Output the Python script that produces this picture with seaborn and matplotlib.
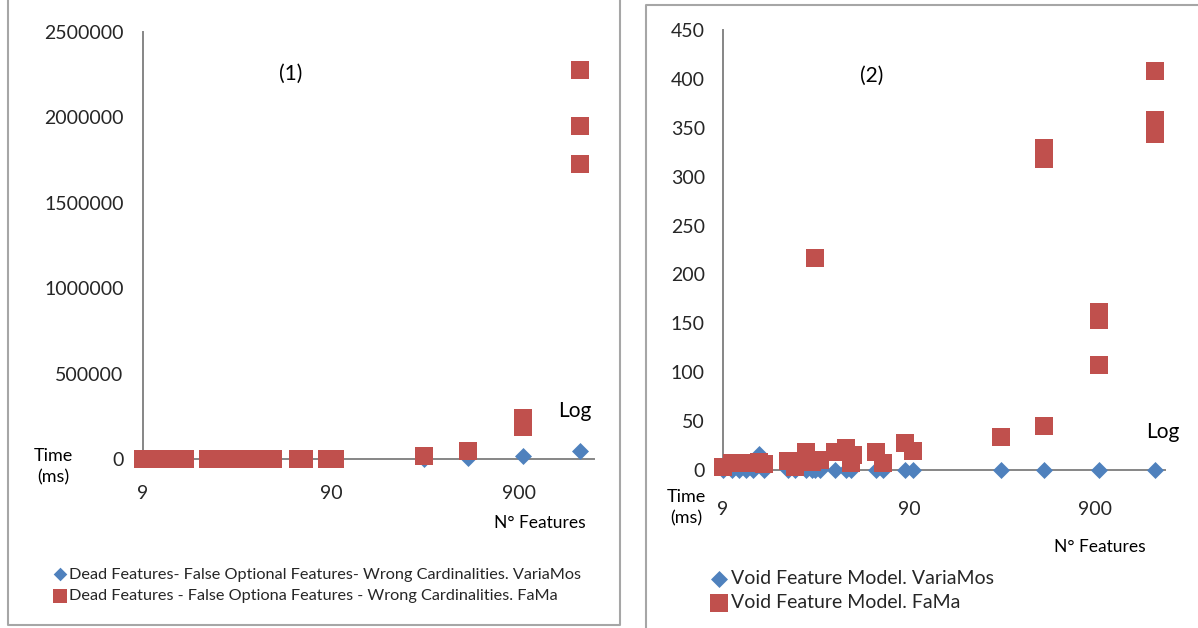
import seaborn as sns
import matplotlib.pyplot as plt
import pandas as pd
from matplotlib.lines import Line2D

# feature model sizes (x) and times in ms (y)
sizes = [9, 10, 11, 12, 13, 14, 15, 20, 22, 25, 27, 28, 30, 36, 41, 44, 60, 65, 86, 94, 280, 480, 950, 1900]

# panel (1): dead features / false optional / wrong cardinalities
p1_variamos = [0, 0, 0, 0, 0, 0, 0, 0, 0, 0, 0, 0, 0, 0, 0, 0, 0, 0, 0, 0, 2000, 5000, 20000, 47000]
p1_fama_x = sizes + [950, 1900, 1900]
p1_fama_y = [0] * 20 + [20000, 45000, 190000, 1730000, 240000, 1950000, 2280000]

# panel (2): void feature model
p2_variamos = [0, 0, 0, 0, 0, 16, 0, 0, 0, 0, 0, 0, 0, 0, 0, 0, 0, 0, 0, 0, 0, 0, 0, 0]
p2_fama_x = [9, 10, 11, 12, 13, 14, 15, 20, 22, 25, 27, 28, 30, 36, 41, 44, 45, 60, 65, 86, 94,
             280, 480, 480, 480, 950, 950, 950, 1900, 1900, 1900, 1900]
p2_fama_y = [3, 7, 7, 7, 7, 8, 6, 9, 3, 18, 8, 217, 10, 18, 22, 7, 15, 18, 7, 28, 19,
             34, 45, 318, 329, 107, 153, 162, 344, 352, 358, 408]

p1_labels = ["Dead Features- False Optional Features- Wrong Cardinalities. VariaMos",
             "Dead Features - False Optiona Features - Wrong Cardinalities. FaMa"]
p2_labels = ["Void Feature Model. VariaMos", "Void Feature Model. FaMa"]
xtick_vals = [9, 90, 900]
p1_yticks = [0, 500000, 1000000, 1500000, 2000000, 2500000]
p2_yticks = list(range(0, 451, 50))

BLUE = "#4F81BD"
RED = "#C0504D"
GRAY = "#868686"

sns.set_style("white")
plt.rcParams["font.family"] = ["Lato", "DejaVu Sans"]

W, H = 1198, 628
fig = plt.figure(figsize=(W / 100, H / 100), dpi=100)


def px_axes(x0, x1, ytop, ybot):
    return fig.add_axes([x0 / W, 1 - ybot / H, (x1 - x0) / W, (ybot - ytop) / H])


def fline(xs, ys):
    fig.add_artist(Line2D([x / W for x in xs], [1 - y / H for y in ys],
                          transform=fig.transFigure, color="#A6A6A6", lw=1.5))


def draw_panel(ax, xb, yb, xr, yr, labels, xmax, ymax, yticks, xpad, ypad):
    df_b = pd.DataFrame({"n": xb, "t": yb})
    df_r = pd.DataFrame({"n": xr, "t": yr})
    sns.scatterplot(data=df_b, x="n", y="t", ax=ax, marker="D", s=75, color=BLUE,
                    linewidth=0, clip_on=False, label=labels[0], zorder=3)
    sns.scatterplot(data=df_r, x="n", y="t", ax=ax, marker="s", s=150, color=RED,
                    linewidth=0, clip_on=False, label=labels[1], zorder=4)
    ax.set_xscale("log")
    ax.set_xlim(9, xmax)
    ax.set_ylim(0, ymax)
    ax.set_xticks(xtick_vals)
    ax.set_xticklabels([str(v) for v in xtick_vals])
    ax.minorticks_off()
    ax.set_yticks(yticks)
    ax.set_yticklabels([str(v) for v in yticks])
    ax.tick_params(axis="x", length=0, pad=xpad, labelsize=14)
    ax.tick_params(axis="y", length=0, pad=ypad, labelsize=14)
    ax.set_xlabel("")
    ax.set_ylabel("")
    for side in ["top", "right"]:
        ax.spines[side].set_visible(False)
    for side in ["left", "bottom"]:
        ax.spines[side].set_color(GRAY)
        ax.spines[side].set_linewidth(1.4)
    ax.set_facecolor("none")


# panel (1)
ax1 = px_axes(143, 594, 32, 459)
draw_panel(ax1, sizes, p1_variamos, p1_fama_x, p1_fama_y, p1_labels,
           2258, 2500000, p1_yticks, 19, 14)
ax1.legend(loc="upper left", bbox_to_anchor=(44 / W, 1 - 559 / H), bbox_transform=fig.transFigure,
           frameon=False, fontsize=11.7, handletextpad=0.05, labelspacing=0.45,
           handlelength=1.0, borderpad=0, markerscale=0.8)

# panel (2)
ax2 = px_axes(723, 1165, 30, 470)
draw_panel(ax2, sizes, p2_variamos, p2_fama_x, p2_fama_y, p2_labels,
           2139, 450, p2_yticks, 22, 13)
ax2.legend(loc="upper left", bbox_to_anchor=(700 / W, 1 - 560 / H), bbox_transform=fig.transFigure,
           frameon=False, fontsize=14, handletextpad=0.1, labelspacing=0.4,
           handlelength=1.0, borderpad=0)

# annotations
txt = dict(transform=fig.transFigure, color="black")
fig.text(291 / W, 1 - 74 / H, "(1)", fontsize=15, ha="center", va="center", **txt)
fig.text(575 / W, 1 - 411 / H, "Log", fontsize=15, ha="center", va="center", **txt)
fig.text(53 / W, 1 - 467 / H, "Time\n(ms)", fontsize=13, ha="center", va="center", linespacing=1.4, **txt)
fig.text(540 / W, 1 - 523 / H, "N° Features", fontsize=12.5, ha="center", va="center", **txt)

fig.text(872 / W, 1 - 76 / H, "(2)", fontsize=15, ha="center", va="center", **txt)
fig.text(1163 / W, 1 - 432 / H, "Log", fontsize=15, ha="center", va="center", **txt)
fig.text(686 / W, 1 - 508 / H, "Time\n(ms)", fontsize=13, ha="center", va="center", linespacing=1.4, **txt)
fig.text(1100 / W, 1 - 547 / H, "N° Features", fontsize=12.5, ha="center", va="center", **txt)

# chart area borders
fline([8, 8, 620, 620], [0, 625, 625, 0])
fline([646, 646, 1198], [628, 5, 5])

fig.savefig("out.png", dpi=100)
